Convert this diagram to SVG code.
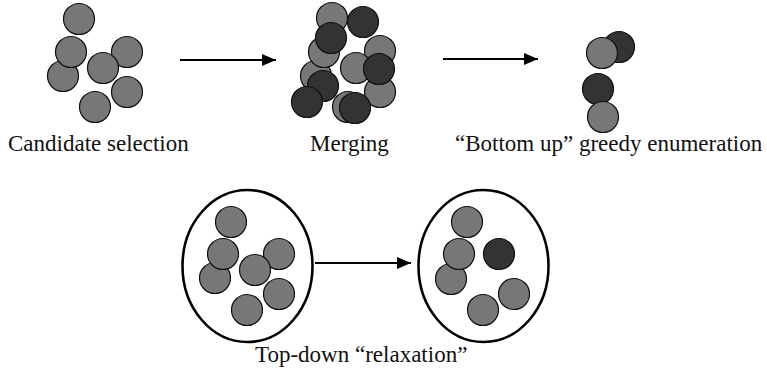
<svg xmlns="http://www.w3.org/2000/svg" width="767" height="372" viewBox="0 0 767 372">
  <defs>
    <style>
      .g { fill: #777777; stroke: #111111; stroke-width: 1.2; }
      .d { fill: #333333; stroke: #111111; stroke-width: 1.2; }
      .hull { fill: none; stroke: #000000; stroke-width: 2.6; }
      .edge { stroke: #000000; stroke-width: 2.2; fill: none; }
      .lbl { font-family: "Liberation Serif", "Times New Roman", serif; font-size: 23px; fill: #111111; }
    </style>
    <marker id="head" viewBox="0 0 14 12" refX="14" refY="6" markerUnits="userSpaceOnUse" markerWidth="14" markerHeight="12" orient="auto">
      <path d="M0,0 L14,6 L0,12 Z" fill="#000000"/>
    </marker>
  </defs>

  <rect width="767" height="372" fill="#ffffff"/>

  <!-- Stage 1: candidate selection -->
  <g id="candidates">
    <circle class="g" cx="79" cy="19" r="15.5"/>
    <circle class="g" cx="63" cy="76" r="15.5"/>
    <circle class="g" cx="71" cy="52" r="15.5"/>
    <circle class="g" cx="127" cy="52" r="15.5"/>
    <circle class="g" cx="103" cy="68" r="15.5"/>
    <circle class="g" cx="127" cy="92" r="15.5"/>
    <circle class="g" cx="95" cy="107" r="15.5"/>
    <text class="lbl" x="8" y="151">Candidate selection</text>
  </g>

  <!-- Stage 2: merging -->
  <g id="merging">
    <circle class="g" cx="332" cy="18" r="15.5"/>
    <circle class="d" cx="363" cy="22" r="15.5"/>
    <circle class="g" cx="316" cy="76" r="15.5"/>
    <circle class="g" cx="324" cy="52" r="15.5"/>
    <circle class="d" cx="331" cy="38" r="15.5"/>
    <circle class="g" cx="380" cy="51" r="15.5"/>
    <circle class="g" cx="356" cy="68" r="15.5"/>
    <circle class="g" cx="380" cy="92" r="15.5"/>
    <circle class="d" cx="379" cy="69" r="15.5"/>
    <circle class="d" cx="323" cy="86" r="15.5"/>
    <circle class="d" cx="307" cy="102" r="15.5"/>
    <circle class="g" cx="348" cy="107" r="15.5"/>
    <circle class="d" cx="355" cy="108" r="15.5"/>
    <text class="lbl" x="310" y="151">Merging</text>
  </g>

  <!-- Stage 3: bottom-up greedy enumeration -->
  <g id="greedy">
    <circle class="d" cx="619" cy="47" r="15.5"/>
    <circle class="g" cx="602" cy="53" r="15.5"/>
    <circle class="d" cx="598" cy="89" r="15.5"/>
    <circle class="g" cx="603" cy="117" r="15.5"/>
    <text class="lbl" x="455" y="151">“Bottom up” greedy enumeration</text>
  </g>

  <!-- Stage 4: top-down relaxation, before -->
  <g id="relax-before">
    <ellipse class="hull" cx="247.5" cy="266" rx="65" ry="76"/>
    <circle class="g" cx="231" cy="222" r="15.5"/>
    <circle class="g" cx="215" cy="278" r="15.5"/>
    <circle class="g" cx="223" cy="254" r="15.5"/>
    <circle class="g" cx="279" cy="254" r="15.5"/>
    <circle class="g" cx="255" cy="270" r="15.5"/>
    <circle class="g" cx="279" cy="294" r="15.5"/>
    <circle class="g" cx="247" cy="310" r="15.5"/>
  </g>

  <!-- Stage 4: top-down relaxation, after -->
  <g id="relax-after">
    <ellipse class="hull" cx="483.5" cy="266" rx="65" ry="76"/>
    <circle class="g" cx="467" cy="222" r="15.5"/>
    <circle class="g" cx="451" cy="279" r="15.5"/>
    <circle class="g" cx="459" cy="254" r="15.5"/>
    <circle class="d" cx="499" cy="254" r="15.5"/>
    <circle class="g" cx="514" cy="294" r="15.5"/>
    <circle class="g" cx="483" cy="310" r="15.5"/>
    <text class="lbl" x="255" y="362">Top-down “relaxation”</text>
  </g>

  <!-- Connectors -->
  <g id="connectors">
    <line class="edge" x1="180" y1="60" x2="276" y2="60" marker-end="url(#head)"/>
    <line class="edge" x1="443" y1="59" x2="538" y2="59" marker-end="url(#head)"/>
    <line class="edge" x1="315" y1="263" x2="411" y2="263" marker-end="url(#head)"/>
  </g>
</svg>
